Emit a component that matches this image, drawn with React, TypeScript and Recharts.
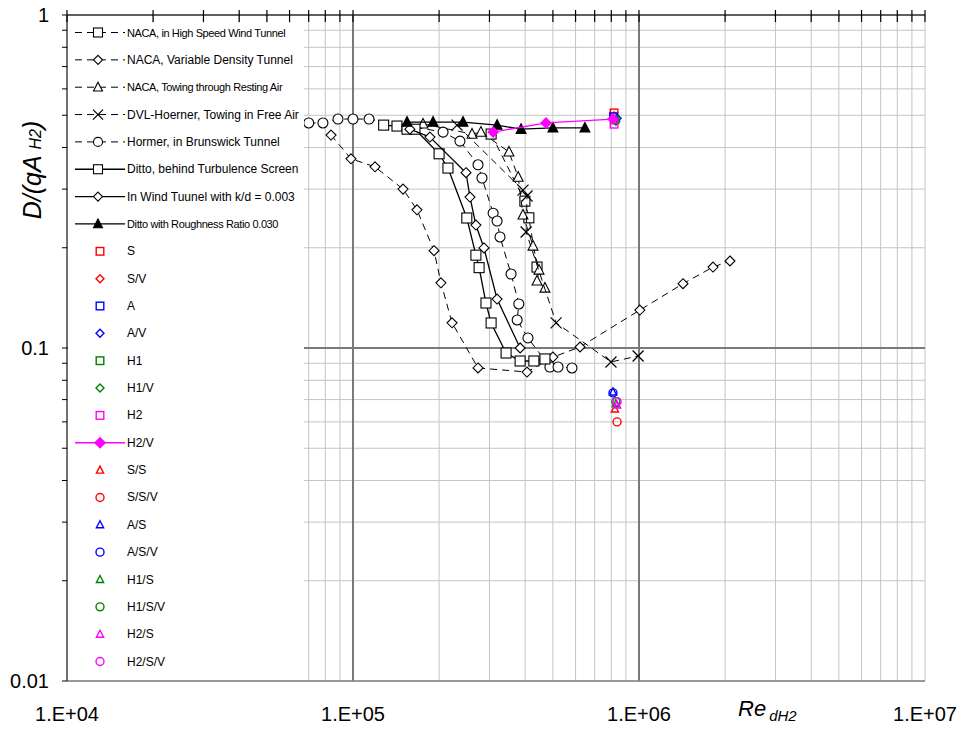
import React from "react";
import {
  ScatterChart,
  Scatter,
  XAxis,
  YAxis,
  CartesianGrid,
  ReferenceLine,
  Legend,
} from "recharts";

type Pt = { x: number; y: number };

const FONT = "'Liberation Sans', Arial, sans-serif";

// axis ticks
const xTicks = [
  1e4, 2e4, 3e4, 4e4, 5e4, 6e4, 7e4, 8e4, 9e4,
  1e5, 2e5, 3e5, 4e5, 5e5, 6e5, 7e5, 8e5, 9e5,
  1e6, 2e6, 3e6, 4e6, 5e6, 6e6, 7e6, 8e6, 9e6,
  1e7,
];
const yTicks = [
  0.01, 0.02, 0.03, 0.04, 0.05, 0.06, 0.07, 0.08, 0.09,
  0.1, 0.2, 0.3, 0.4, 0.5, 0.6, 0.7, 0.8, 0.9,
  1,
];
const xMajor = [1e4, 1e5, 1e6, 1e7];
const xLabels = ["1.E+04", "1.E+05", "1.E+06", "1.E+07"];
const yMajor = [0.01, 0.1, 1];
const yLabels = ["0.01", "0.1", "1"];

// series values (Re, D/qA)
const nacaHighSpeed: Pt[] = [
  { x: 3.04e5, y: 0.439 },
  { x: 3.99e5, y: 0.276 },
  { x: 4.12e5, y: 0.246 },
  { x: 4.4e5, y: 0.175 },
];
const nacaVarDensity: Pt[] = [
  { x: 8.38e4, y: 0.436 },
  { x: 9.84e4, y: 0.37 },
  { x: 1.194e5, y: 0.35 },
  { x: 1.496e5, y: 0.3 },
  { x: 1.674e5, y: 0.26 },
  { x: 1.92e5, y: 0.196 },
  { x: 2.03e5, y: 0.157 },
  { x: 2.22e5, y: 0.119 },
  { x: 2.736e5, y: 0.0871 },
  { x: 4.06e5, y: 0.0847 },
  { x: 5.0e5, y: 0.0939 },
  { x: 6.22e5, y: 0.1007 },
  { x: 1.007e6, y: 0.13 },
  { x: 1.425e6, y: 0.156 },
  { x: 1.815e6, y: 0.175 },
  { x: 2.08e6, y: 0.1825 },
];
const nacaTowing: Pt[] = [
  { x: 1.757e5, y: 0.471 },
  { x: 2.607e5, y: 0.439 },
  { x: 2.8e5, y: 0.445 },
  { x: 3.51e5, y: 0.388 },
  { x: 3.78e5, y: 0.326 },
  { x: 3.93e5, y: 0.251 },
  { x: 4.26e5, y: 0.2025 },
  { x: 4.47e5, y: 0.1715 },
  { x: 4.4e5, y: 0.159 },
  { x: 4.69e5, y: 0.1514 },
];
const dvlHoerner: Pt[] = [
  { x: 2.31e5, y: 0.467 },
  { x: 3.93e5, y: 0.298 },
  { x: 4.06e5, y: 0.286 },
  { x: 4.03e5, y: 0.223 },
  { x: 5.13e5, y: 0.119 },
  { x: 7.98e5, y: 0.0908 },
  { x: 9.93e5, y: 0.0946 },
];
const hoernerBrunswick: Pt[] = [
  { x: 7.0e4, y: 0.474 },
  { x: 7.85e4, y: 0.474 },
  { x: 8.86e4, y: 0.487 },
  { x: 1.0e5, y: 0.487 },
  { x: 1.138e5, y: 0.487 },
  { x: 2.065e5, y: 0.445 },
  { x: 2.366e5, y: 0.418 },
  { x: 2.736e5, y: 0.355 },
  { x: 2.825e5, y: 0.324 },
  { x: 3.09e5, y: 0.254 },
  { x: 3.19e5, y: 0.2406 },
  { x: 3.266e5, y: 0.2155 },
  { x: 3.57e5, y: 0.1668 },
  { x: 3.8e5, y: 0.1356 },
  { x: 3.75e5, y: 0.1214 },
  { x: 4.09e5, y: 0.1072 },
  { x: 4.88e5, y: 0.0877 },
  { x: 5.21e5, y: 0.0877 },
  { x: 5.83e5, y: 0.0871 },
];
const dittoScreen: Pt[] = [
  { x: 1.28e5, y: 0.467 },
  { x: 1.425e5, y: 0.464 },
  { x: 1.545e5, y: 0.454 },
  { x: 1.647e5, y: 0.454 },
  { x: 2.0e5, y: 0.383 },
  { x: 2.148e5, y: 0.347 },
  { x: 2.5e5, y: 0.2457 },
  { x: 2.69e5, y: 0.19 },
  { x: 2.76e5, y: 0.1743 },
  { x: 2.917e5, y: 0.1365 },
  { x: 3.04e5, y: 0.1189 },
  { x: 3.43e5, y: 0.0966 },
  { x: 3.84e5, y: 0.0914 },
  { x: 4.29e5, y: 0.0914 },
  { x: 4.69e5, y: 0.0927 },
];
const windTunnelKd: Pt[] = [
  { x: 1.58e5, y: 0.454 },
  { x: 1.858e5, y: 0.43 },
  { x: 2.484e5, y: 0.336 },
  { x: 2.565e5, y: 0.284 },
  { x: 2.69e5, y: 0.234 },
  { x: 2.87e5, y: 0.1997 },
  { x: 3.19e5, y: 0.1403 },
  { x: 3.84e5, y: 0.1 },
];
const dittoRoughness: Pt[] = [
  { x: 1.545e5, y: 0.477 },
  { x: 1.905e5, y: 0.477 },
  { x: 2.425e5, y: 0.477 },
  { x: 3.19e5, y: 0.467 },
  { x: 3.87e5, y: 0.454 },
  { x: 5.0e5, y: 0.458 },
  { x: 6.47e5, y: 0.458 },
];
const sData: Pt[] = [{ x: 8.18e5, y: 0.508 }];
const svData: Pt[] = [{ x: 8.18e5, y: 0.497 }];
const aData: Pt[] = [{ x: 8.15e5, y: 0.495 }];
const avData: Pt[] = [{ x: 8.38e5, y: 0.49 }];
const h1Data: Pt[] = [{ x: 8.24e5, y: 0.485 }];
const h1vData: Pt[] = [{ x: 8.3e5, y: 0.48 }];
const h2Data: Pt[] = [{ x: 8.18e5, y: 0.47 }];
const h2vData: Pt[] = [
  { x: 3.09e5, y: 0.445 },
  { x: 4.73e5, y: 0.474 },
  { x: 8.11e5, y: 0.487 },
];
const ssData: Pt[] = [{ x: 8.24e5, y: 0.0656 }];
const ssvData: Pt[] = [{ x: 8.38e5, y: 0.06 }];
const asData: Pt[] = [{ x: 8.11e5, y: 0.0738 }];
const asvData: Pt[] = [{ x: 8.11e5, y: 0.0733 }];
const h1sData: Pt[] = [{ x: 8.3e5, y: 0.068 }];
const h1svData: Pt[] = [{ x: 8.3e5, y: 0.069 }];
const h2sData: Pt[] = [{ x: 8.38e5, y: 0.0674 }];
const h2svData: Pt[] = [{ x: 8.38e5, y: 0.069 }];

type Kind = "square" | "diamond" | "triangle" | "circle" | "cross";

type Series = {
  name: string;
  data: Pt[];
  kind: Kind;
  color: string;
  fill: string;
  size: number;
  line?: "dash" | "solid";
  narrow?: boolean;
};

const RED = "#ff0000";
const BLUE = "#0000ff";
const GREEN = "#008000";
const MAG = "#ff00ff";

const series: Series[] = [
  { name: "NACA, in High Speed Wind Tunnel", data: nacaHighSpeed, kind: "square", color: "#000", fill: "#fff", size: 5, line: "dash", narrow: true },
  { name: "NACA, Variable Density  Tunnel", data: nacaVarDensity, kind: "diamond", color: "#000", fill: "#fff", size: 5, line: "dash" },
  { name: "NACA, Towing through Resting Air", data: nacaTowing, kind: "triangle", color: "#000", fill: "#fff", size: 5.5, line: "dash", narrow: true },
  { name: "DVL-Hoerner, Towing in Free Air", data: dvlHoerner, kind: "cross", color: "#000", fill: "none", size: 5.5, line: "dash" },
  { name: "Hormer, in Brunswick Tunnel", data: hoernerBrunswick, kind: "circle", color: "#000", fill: "#fff", size: 5, line: "dash" },
  { name: "Ditto, behind Turbulence Screen", data: dittoScreen, kind: "square", color: "#000", fill: "#fff", size: 5, line: "solid" },
  { name: "In Wind Tuunel with k/d = 0.003", data: windTunnelKd, kind: "diamond", color: "#000", fill: "#fff", size: 5, line: "solid" },
  { name: "Ditto with Roughness Ratio 0.030", data: dittoRoughness, kind: "triangle", color: "#000", fill: "#000", size: 5.5, line: "solid", narrow: true },
  { name: "S", data: sData, kind: "square", color: RED, fill: "none", size: 3.8 },
  { name: "S/V", data: svData, kind: "diamond", color: RED, fill: "none", size: 4 },
  { name: "A", data: aData, kind: "square", color: BLUE, fill: "none", size: 3.8 },
  { name: "A/V", data: avData, kind: "diamond", color: BLUE, fill: "none", size: 4 },
  { name: "H1", data: h1Data, kind: "square", color: GREEN, fill: "none", size: 3.8 },
  { name: "H1/V", data: h1vData, kind: "diamond", color: GREEN, fill: "none", size: 4 },
  { name: "H2", data: h2Data, kind: "square", color: MAG, fill: "none", size: 3.8 },
  { name: "H2/V", data: h2vData, kind: "diamond", color: MAG, fill: MAG, size: 5, line: "solid" },
  { name: "S/S", data: ssData, kind: "triangle", color: RED, fill: "none", size: 4 },
  { name: "S/S/V", data: ssvData, kind: "circle", color: RED, fill: "none", size: 4 },
  { name: "A/S", data: asData, kind: "triangle", color: BLUE, fill: "none", size: 4 },
  { name: "A/S/V", data: asvData, kind: "circle", color: BLUE, fill: "none", size: 4 },
  { name: "H1/S", data: h1sData, kind: "triangle", color: GREEN, fill: "none", size: 4 },
  { name: "H1/S/V", data: h1svData, kind: "circle", color: GREEN, fill: "none", size: 4 },
  { name: "H2/S", data: h2sData, kind: "triangle", color: MAG, fill: "none", size: 4 },
  { name: "H2/S/V", data: h2svData, kind: "circle", color: MAG, fill: "none", size: 4 },
];

const DASH = "7 5";

function Marker({ kind, cx, cy, r, color, fill }: { kind: Kind; cx: number; cy: number; r: number; color: string; fill: string }) {
  const sw = color === "#000" ? 1.1 : 1.4;
  if (kind === "square")
    return <rect x={cx - r} y={cy - r} width={2 * r} height={2 * r} fill={fill} stroke={color} strokeWidth={sw} />;
  if (kind === "diamond")
    return (
      <polygon
        points={`${cx},${cy - r} ${cx + r},${cy} ${cx},${cy + r} ${cx - r},${cy}`}
        fill={fill}
        stroke={color}
        strokeWidth={sw}
      />
    );
  if (kind === "triangle")
    return (
      <polygon
        points={`${cx},${cy - r} ${cx + r * 0.9},${cy + r * 0.75} ${cx - r * 0.9},${cy + r * 0.75}`}
        fill={fill}
        stroke={color}
        strokeWidth={sw}
      />
    );
  if (kind === "circle") return <circle cx={cx} cy={cy} r={r} fill={fill} stroke={color} strokeWidth={sw} />;
  return (
    <g stroke={color} strokeWidth={1.2}>
      <line x1={cx - r} y1={cy - r} x2={cx + r} y2={cy + r} />
      <line x1={cx - r} y1={cy + r} x2={cx + r} y2={cy - r} />
    </g>
  );
}

const shapeFor = (s: Series) => (p: any) => {
  if (p.cx == null || p.cy == null) return <g />;
  return <Marker kind={s.kind} cx={p.cx} cy={p.cy} r={s.size} color={s.color} fill={s.fill} />;
};

const TopTick = (p: any) => (
  <line x1={p.x} x2={p.x} y1={p.y - 5} y2={p.y + 7} stroke="#000" strokeWidth={1.2} />
);

const fmtX = (v: number) => {
  const i = xMajor.indexOf(v);
  return i >= 0 ? xLabels[i] : "";
};
const fmtY = (v: number) => {
  const i = yMajor.indexOf(v);
  return i >= 0 ? yLabels[i] : "";
};

const YTitle = () => (
  <text transform="translate(41,170) rotate(-90)" textAnchor="middle" fontStyle="italic" fill="#000" fontFamily={FONT}>
    <tspan fontSize={25}>D/(qA </tspan>
    <tspan fontSize={16}>H2</tspan>
    <tspan fontSize={25}>)</tspan>
  </text>
);

const XTitle = () => (
  <text x={738} y={716} fontStyle="italic" fill="#000" fontFamily={FONT}>
    <tspan fontSize={22}>Re</tspan>
    <tspan fontSize={15} dx={3} dy={5}>dH2</tspan>
  </text>
);

const LegendBox = () => (
  <svg width={236} height={657} style={{ display: "block", background: "#fff" }}>
    {series.map((s, i) => {
      const y = 9.5 + i * 27.35;
      const black = s.color === "#000";
      const mx = black ? 30 : 32;
      return (
        <g key={s.name}>
          {s.line && (
            <line
              x1={7}
              x2={57}
              y1={y}
              y2={y}
              stroke={s.color}
              strokeWidth={s.line === "dash" ? 1 : 1.3}
              strokeDasharray={s.line === "dash" ? DASH : undefined}
            />
          )}
          <Marker kind={s.kind} cx={mx} cy={y} r={black ? s.size - 0.5 : s.size} color={s.color} fill={s.fill} />
          <text
            x={59}
            y={y + 4}
            fontFamily={FONT}
            fontSize={s.narrow ? 11 : 12}
            letterSpacing={s.narrow ? -0.38 : 0}
            fill="#000"
          >
            {s.name}
          </text>
        </g>
      );
    })}
  </svg>
);

export default function App() {
  return (
    <div style={{ position: "absolute", left: 0, top: 0, width: 965, height: 729, background: "#fff" }}>
      <ScatterChart width={965} height={729} margin={{ top: 10, right: 40, bottom: 8, left: 12 }}>
        <CartesianGrid stroke="#c4c4c4" strokeWidth={1} />
        <XAxis
          dataKey="x"
          type="number"
          scale="log"
          domain={[1e4, 1e7]}
          ticks={xTicks}
          interval={0}
          tickFormatter={fmtX}
          tickLine={false}
          tickSize={6}
          tickMargin={20}
          height={40}
          axisLine={{ stroke: "#808080", strokeWidth: 1.5 }}
          tick={{ fontSize: 20, fill: "#000", fontFamily: FONT }}
          allowDataOverflow
          label={{ content: XTitle }}
        />
        <XAxis
          xAxisId="top"
          orientation="top"
          dataKey="x"
          type="number"
          scale="log"
          domain={[1e4, 1e7]}
          ticks={xTicks}
          interval={0}
          tickSize={0}
          tickMargin={0}
          height={5}
          tickLine={false}
          tick={TopTick}
          axisLine={{ stroke: "#333", strokeWidth: 1.5 }}
          allowDataOverflow
        />
        <YAxis
          dataKey="y"
          type="number"
          scale="log"
          domain={[0.01, 1]}
          ticks={yTicks}
          interval={0}
          tickFormatter={fmtY}
          tickSize={5}
          tickMargin={13}
          width={55}
          axisLine={{ stroke: "#000" }}
          tickLine={{ stroke: "#000" }}
          tick={{ fontSize: 20, fill: "#000", fontFamily: FONT }}
          allowDataOverflow
          label={{ content: YTitle }}
        />
        <YAxis
          yAxisId="right"
          orientation="right"
          type="number"
          scale="log"
          domain={[0.01, 1]}
          width={0}
          tick={false}
          tickLine={false}
          axisLine={{ stroke: "#000" }}
        />
        <ReferenceLine x={1e5} stroke="#7a7a7a" strokeWidth={2} />
        <ReferenceLine x={1e6} stroke="#7a7a7a" strokeWidth={2} />
        <ReferenceLine y={0.1} stroke="#7a7a7a" strokeWidth={2} />
        {series.map((s) => (
          <Scatter
            key={s.name}
            name={s.name}
            data={s.data}
            isAnimationActive={false}
            shape={shapeFor(s)}
            line={
              s.line
                ? {
                    stroke: s.color,
                    strokeWidth: s.line === "dash" ? 1 : 1.3,
                    strokeDasharray: s.line === "dash" ? DASH : undefined,
                  }
                : false
            }
            lineType="joint"
          />
        ))}
        <Legend
          layout="vertical"
          align="center"
          verticalAlign="middle"
          wrapperStyle={{ left: 68, top: 23, width: 236, height: 657, background: "#fff" }}
          content={LegendBox}
        />
      </ScatterChart>
    </div>
  );
}
